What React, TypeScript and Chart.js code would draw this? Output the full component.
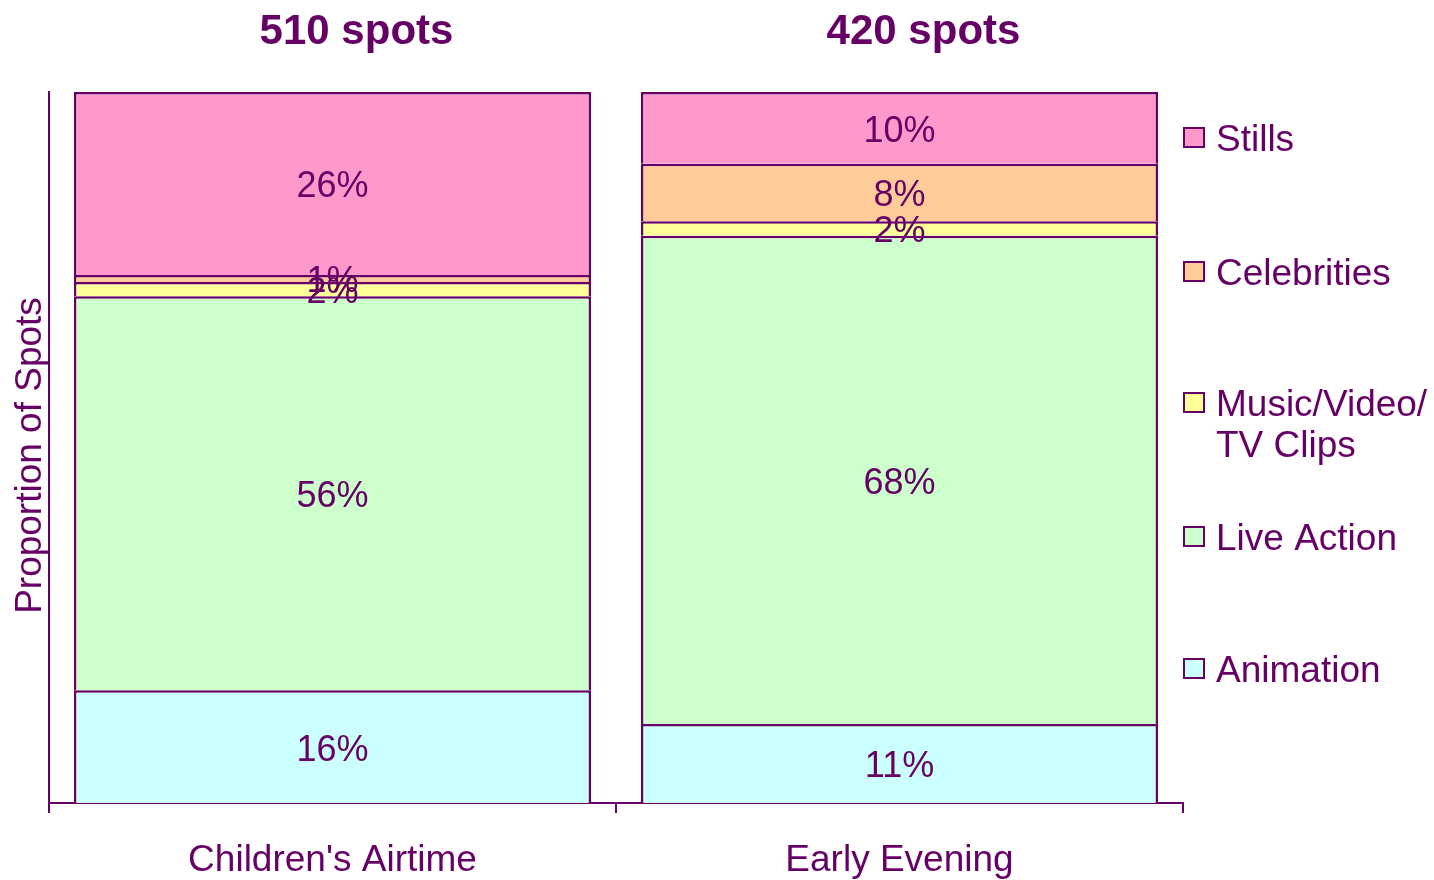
import { useEffect, useRef } from "react";
import { Chart, registerables } from "chart.js";

Chart.register(...registerables);

// ---- data ----
const categories = ["Children's Airtime", "Early Evening"];
const spotCounts = [510, 420];
const seriesNames = ["Animation", "Live Action", "Music/Video/TV Clips", "Celebrities", "Stills"];
const legendLines = [["Animation"], ["Live Action"], ["Music/Video/", "TV Clips"], ["Celebrities"], ["Stills"]];
const animation = [16, 11];
const liveAction = [56, 68];
const musicClips = [2, 2];
const celebrities = [1, 8];
const stills = [26, 10];
const yAxisTitle = "Proportion of Spots";

const seriesValues = [animation, liveAction, musicClips, celebrities, stills];
const fills = ["#CCFFFF", "#CCFFCC", "#FFFF99", "#FFCC99", "#FF99CC"];
const PURPLE = "#660066";
const FONT = "'Liberation Sans', Arial, sans-serif";

// 100% stacked: normalise each category to its total
const totals = categories.map((_, j) => seriesValues.reduce((s, arr) => s + arr[j], 0));
const shares = seriesValues.map((arr) => arr.map((v, j) => (v / totals[j]) * 100));

// legend text centre lines (layout), top to bottom: Stills .. Animation
const legendTextY = [138, 272, 403, 537, 669];

const labelsPlugin = {
  id: "valueLabels",
  afterDatasetsDraw(chart: any) {
    const ctx = chart.ctx;
    ctx.save();
    ctx.font = `36px ${FONT}`;
    ctx.fillStyle = PURPLE;
    ctx.textAlign = "center";
    ctx.textBaseline = "middle";
    chart.data.datasets.forEach((ds: any, i: number) => {
      const meta = chart.getDatasetMeta(i);
      meta.data.forEach((el: any, j: number) => {
        const y = (el.y + el.base) / 2 + 4;
        ctx.fillText(`${seriesValues[i][j]}%`, el.x, y);
      });
    });
    ctx.restore();
  },
};

const titlesPlugin = {
  id: "spotTitles",
  afterDraw(chart: any) {
    const ctx = chart.ctx;
    const xs = chart.scales.x;
    const area = chart.chartArea;
    ctx.save();
    ctx.font = `bold 42px ${FONT}`;
    ctx.fillStyle = PURPLE;
    ctx.textAlign = "center";
    ctx.textBaseline = "middle";
    spotCounts.forEach((n, j) => {
      ctx.fillText(`${n} spots`, xs.getPixelForValue(j) + 24, 32);
    });
    // y axis title
    ctx.font = `37px ${FONT}`;
    ctx.translate(31, (area.top + area.bottom) / 2 + 8);
    ctx.rotate(-Math.PI / 2);
    ctx.fillText(yAxisTitle, 0, 0);
    ctx.restore();
  },
};

const legendPlugin = {
  id: "customLegend",
  afterDraw(chart: any) {
    const ctx = chart.ctx;
    const left = chart.chartArea.right;
    ctx.save();
    ctx.font = `37px ${FONT}`;
    ctx.textAlign = "left";
    ctx.textBaseline = "middle";
    const order = [4, 3, 2, 1, 0];
    order.forEach((si, k) => {
      const y = legendTextY[k];
      ctx.fillStyle = fills[si];
      ctx.fillRect(left + 1, y - 10, 20, 19);
      ctx.strokeStyle = PURPLE;
      ctx.lineWidth = 2;
      ctx.strokeRect(left + 1, y - 10, 20, 19);
      ctx.fillStyle = PURPLE;
      legendLines[si].forEach((line, li) => {
        ctx.fillText(line, left + 33, y + 3 + li * 41);
      });
    });
    ctx.restore();
  },
};

export default function App() {
  const ref = useRef<HTMLCanvasElement>(null);
  useEffect(() => {
    if (!ref.current) return;
    const chart = new Chart(ref.current, {
      type: "bar",
      data: {
        labels: categories,
        datasets: seriesNames.map((name, i) => ({
          label: name,
          data: shares[i],
          backgroundColor: fills[i],
          borderColor: PURPLE,
          borderWidth: 2.5,
          categoryPercentage: 1,
          barPercentage: 0.912,
        })),
      },
      options: {
        responsive: false,
        animation: false,
        layout: { padding: { top: 92, right: 251, left: 0, bottom: 0 } },
        plugins: { legend: { display: false }, tooltip: { enabled: false }, title: { display: false } },
        scales: {
          x: {
            stacked: true,
            afterFit: (s: any) => { s.height = 77; },
            grid: { display: true, drawOnChartArea: false, drawTicks: true, tickLength: 10, color: PURPLE, lineWidth: 2, offset: true },
            border: { display: true, color: PURPLE, width: 2 },
            ticks: { color: PURPLE, font: { family: FONT, size: 37 }, padding: 26, maxRotation: 0 },
          },
          y: {
            stacked: true,
            min: 0,
            max: 100,
            afterFit: (s: any) => { s.width = 49; },
            grid: { display: false, drawTicks: false },
            border: { display: true, color: PURPLE, width: 2 },
            ticks: { display: false },
            title: { display: false },
          },
        },
      },
      plugins: [labelsPlugin, titlesPlugin, legendPlugin],
    });
    return () => chart.destroy();
  }, []);
  return (
    <div style={{ position: "fixed", left: 0, top: 0, width: 1434, height: 880, background: "#fff" }}>
      <canvas ref={ref} width={1434} height={880} style={{ display: "block" }} />
    </div>
  );
}
